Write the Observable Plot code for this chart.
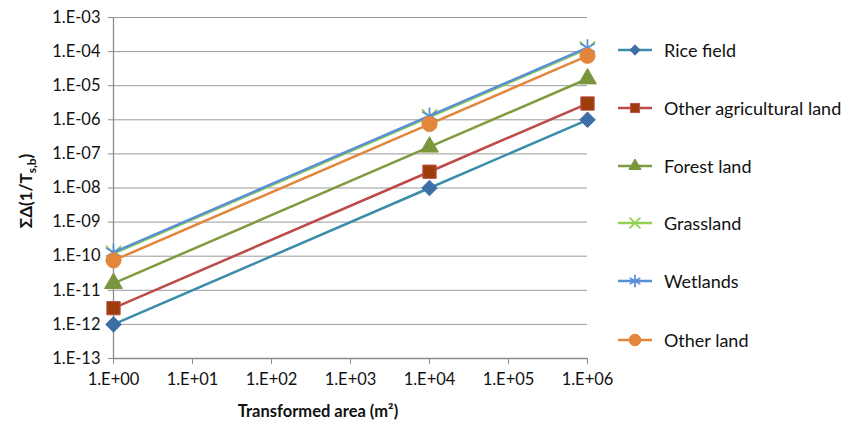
<!DOCTYPE html>
<html>
<head>
<meta charset="utf-8">
<script src="https://cdn.jsdelivr.net/npm/d3@7"></script>
<script src="https://cdn.jsdelivr.net/npm/@observablehq/plot@0.6"></script>
<style>
  html, body { margin: 0; padding: 0; background: #fff; }
  #chart { position: relative; width: 858px; height: 425px; }
  svg { font-family: Lato, "Open Sans", sans-serif; }
</style>
</head>
<body>
<div id="chart"></div>
<script>
// ---- data ----
const areas = [1, 1e4, 1e6];
const seriesNames = ["Rice field", "Other agricultural land", "Forest land", "Grassland", "Wetlands", "Other land"];
const riceField = [1e-12, 1e-8, 1e-6];
const otherAgricultural = [3e-12, 3e-8, 3e-6];
const forestLand = [1.6e-11, 1.6e-7, 1.6e-5];
const grassland = [1.2e-10, 1.2e-6, 1.2e-4];
const wetlands = [1.3e-10, 1.3e-6, 1.3e-4];
const otherLand = [7.5e-11, 7.5e-7, 7.5e-5];
const xTicks = [1, 1e1, 1e2, 1e3, 1e4, 1e5, 1e6];
const yTicks = [1e-13, 1e-12, 1e-11, 1e-10, 1e-9, 1e-8, 1e-7, 1e-6, 1e-5, 1e-4, 1e-3];

const values = [riceField, otherAgricultural, forestLand, grassland, wetlands, otherLand];
const styles = [
  {line: "#3A8CA8", fill: "#3D6FA4", stroke: "#3D6FA4", symbol: "diamond2", r: 7, lr: 6},
  {line: "#BD4A47", fill: "#9B3E0C", stroke: "#C0504D", symbol: "square2", r: 8.5, lr: 7.5},
  {line: "#7F9B3F", fill: "#7A963C", stroke: "#7A963C", symbol: "triangle2", r: 8.5, lr: 7.5},
  {line: "#92D050", fill: "none", stroke: "#92D050", symbol: "times", r: 7, lr: 6.5},
  {line: "#5A8ED6", fill: "none", stroke: "#5A8ED6", symbol: "asterisk", r: 8, lr: 7.5},
  {line: "#E3863B", fill: "#E3863B", stroke: "#E3863B", symbol: "circle", r: 7.5, lr: 7.5}
];

const rows = [];
seriesNames.forEach((name, i) => {
  areas.forEach((a, j) => rows.push({series: name, area: a, value: values[i][j], idx: i}));
});

function sci(d) {
  const e = Math.round(Math.log10(d));
  const s = e < 0 ? "-" : "+";
  return "1.E" + s + String(Math.abs(e)).padStart(2, "0");
}

const marks = [
  Plot.gridY(yTicks, {stroke: "#9a9a9a", strokeOpacity: 1, strokeWidth: 1}),
  Plot.ruleX([1], {stroke: "#8c8c8c", strokeWidth: 1.3}),
  Plot.ruleY([1e-13], {stroke: "#8c8c8c", strokeWidth: 1.3}),
  Plot.axisX(xTicks, {tickFormat: sci, tickSize: 6, tickPadding: 9, stroke: "#8c8c8c", fill: "#111", fontSize: 16.5, label: null}),
  Plot.axisY(yTicks, {tickFormat: sci, tickSize: 5, tickPadding: 8, stroke: "#8c8c8c", fill: "#111", fontSize: 16.5, label: null})
];
seriesNames.forEach((name, i) => {
  const st = styles[i];
  const d = rows.filter(r => r.idx === i);
  marks.push(Plot.line(d, {x: "area", y: "value", stroke: st.line, strokeWidth: 2.5}));
  marks.push(Plot.dot(d, {x: "area", y: "value", symbol: () => st.symbol, r: st.r, fill: st.fill, stroke: st.stroke, strokeWidth: st.fill === "none" ? 1.8 : 1}));
});

const plot = Plot.plot({
  width: 858,
  height: 425,
  marginLeft: 113,
  marginRight: 271,
  marginTop: 17,
  marginBottom: 67,
  x: {type: "log", domain: [1, 1e6], axis: null},
  y: {type: "log", domain: [1e-13, 1e-3], axis: null},
  style: {fontFamily: "Lato, 'Open Sans', sans-serif", fontSize: "16.5px", color: "#111", background: "#fff", overflow: "visible"},
  marks
});
document.getElementById("chart").appendChild(plot);

// ---- axis titles and legend ----
const svg = d3.select(plot);
const yl = svg.append("text")
  .attr("transform", "translate(32,191) rotate(-90)")
  .attr("text-anchor", "middle")
  .attr("font-weight", "bold")
  .attr("font-size", 17)
  .attr("fill", "#111");
yl.append("tspan").text("ΣΔ(1/T");
yl.append("tspan").attr("font-size", 12).attr("dy", 4).text("s,b");
yl.append("tspan").attr("dy", -4).text(")");

svg.append("text")
  .attr("x", 318).attr("y", 417)
  .attr("text-anchor", "middle")
  .attr("font-weight", "bold")
  .attr("font-size", 16.5)
  .attr("fill", "#111")
  .text("Transformed area (m²)");

const symMap = {diamond2: d3.symbolDiamond2, square2: d3.symbolSquare2, triangle2: d3.symbolTriangle2, times: d3.symbolTimes, asterisk: d3.symbolAsterisk, circle: d3.symbolCircle};
const legendY = [50, 108, 166, 223, 281, 340];
seriesNames.forEach((name, i) => {
  const st = styles[i];
  const g = svg.append("g").attr("transform", `translate(0,${legendY[i]})`);
  g.append("line").attr("x1", 618).attr("x2", 652).attr("y1", 0).attr("y2", 0)
    .attr("stroke", st.line).attr("stroke-width", 2.5);
  g.append("path")
    .attr("transform", "translate(635,0)")
    .attr("d", d3.symbol(symMap[st.symbol], Math.PI * st.lr * st.lr * 0.6)())
    .attr("fill", st.fill).attr("stroke", st.stroke)
    .attr("stroke-width", st.fill === "none" ? 1.8 : 1);
  g.append("text").attr("x", 664).attr("y", 6.5)
    .attr("text-anchor", "start")
    .attr("font-size", 18).attr("fill", "#111").text(name);
});
</script>
</body>
</html>
